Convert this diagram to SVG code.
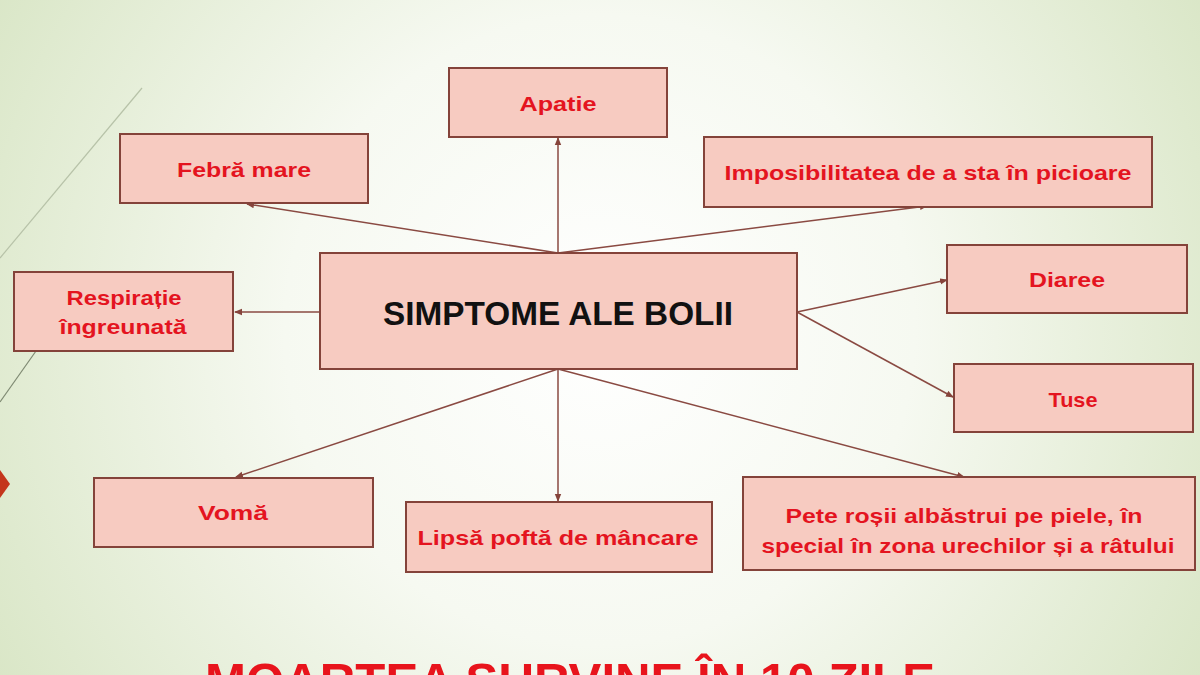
<svg xmlns="http://www.w3.org/2000/svg" width="1200" height="675" viewBox="0 0 1200 675">
<defs>
<radialGradient id="bg" cx="600" cy="330" r="700" gradientUnits="userSpaceOnUse">
<stop offset="0" stop-color="#ffffff"/>
<stop offset="0.45" stop-color="#f6f9f1"/>
<stop offset="1" stop-color="#d9e6c6"/>
</radialGradient>
<marker id="ah" markerWidth="8" markerHeight="8" refX="7" refY="4" orient="auto" markerUnits="userSpaceOnUse">
<path d="M0,0.8 L8,4 L0,7.2 Z" fill="#86443b"/>
</marker>
<style>
.box{fill:#f7cbc1;stroke:#84433a;stroke-width:2}
.t{font-family:"Liberation Sans",Arial,sans-serif;font-weight:bold;font-size:21px;fill:#e4141f;text-anchor:middle}
.c{stroke:#8a4a42;stroke-width:1.5;fill:none;marker-end:url(#ah)}
</style>
</defs>
<rect width="1200" height="675" fill="url(#bg)"/>
<g id="decor">
<line x1="142" y1="88" x2="0" y2="258" stroke="#b7c2a8" stroke-width="1.2"/>
<line x1="36" y1="351" x2="0" y2="402" stroke="#7f8a73" stroke-width="1.2"/>
<polygon points="0,470 10,484 0,498" fill="#c4361c"/>
</g>
<g id="connectors">
<line class="c" x1="558" y1="253" x2="558" y2="138"/>
<line class="c" x1="558" y1="253" x2="247" y2="204"/>
<line class="c" x1="558" y1="253" x2="927" y2="206"/>
<line class="c" x1="320" y1="312" x2="235" y2="312"/>
<line class="c" x1="797" y1="312" x2="947" y2="280"/>
<line class="c" x1="797" y1="312" x2="953" y2="397"/>
<line class="c" x1="558" y1="369" x2="236" y2="477"/>
<line class="c" x1="558" y1="369" x2="558" y2="501"/>
<line class="c" x1="558" y1="369" x2="964" y2="477"/>
</g>
<g id="center">
<rect class="box" x="320" y="253" width="477" height="116"/>
<text x="558" y="325" text-anchor="middle" font-family="Liberation Sans, Arial, sans-serif" font-weight="bold" font-size="34" fill="#111111" textLength="350" lengthAdjust="spacingAndGlyphs">SIMPTOME ALE BOLII</text>
</g>
<g id="apatie">
<rect class="box" x="449" y="68" width="218" height="69"/>
<text class="t" x="558" y="111" textLength="77" lengthAdjust="spacingAndGlyphs">Apatie</text>
</g>
<g id="febra">
<rect class="box" x="120" y="134" width="248" height="69"/>
<text class="t" x="244" y="177" textLength="134" lengthAdjust="spacingAndGlyphs">Febră mare</text>
</g>
<g id="imposibilitatea">
<rect class="box" x="704" y="137" width="448" height="70"/>
<text class="t" x="928" y="180" textLength="407" lengthAdjust="spacingAndGlyphs">Imposibilitatea de a sta în picioare</text>
</g>
<g id="respiratie">
<rect class="box" x="14" y="272" width="219" height="79"/>
<text class="t" x="124" y="305" textLength="115" lengthAdjust="spacingAndGlyphs">Respirație</text>
<text class="t" x="123" y="334" textLength="127" lengthAdjust="spacingAndGlyphs">îngreunată</text>
</g>
<g id="diaree">
<rect class="box" x="947" y="245" width="240" height="68"/>
<text class="t" x="1067" y="287" textLength="76" lengthAdjust="spacingAndGlyphs">Diaree</text>
</g>
<g id="tuse">
<rect class="box" x="954" y="364" width="239" height="68"/>
<text class="t" x="1073" y="407" textLength="49" lengthAdjust="spacingAndGlyphs">Tuse</text>
</g>
<g id="voma">
<rect class="box" x="94" y="478" width="279" height="69"/>
<text class="t" x="233" y="520" textLength="70" lengthAdjust="spacingAndGlyphs">Vomă</text>
</g>
<g id="lipsa">
<rect class="box" x="406" y="502" width="306" height="70"/>
<text class="t" x="558" y="545" textLength="281" lengthAdjust="spacingAndGlyphs">Lipsă poftă de mâncare</text>
</g>
<g id="pete">
<rect class="box" x="743" y="477" width="452" height="93"/>
<text class="t" x="964" y="523" textLength="357" lengthAdjust="spacingAndGlyphs">Pete roșii albăstrui pe piele, în</text>
<text class="t" x="968" y="553" textLength="413" lengthAdjust="spacingAndGlyphs">special în zona urechilor și a râtului</text>
</g>
<g id="footer">
<text x="570" y="697" text-anchor="middle" font-family="Liberation Sans, Arial, sans-serif" font-weight="bold" font-size="49" fill="#e8141c" textLength="730" lengthAdjust="spacingAndGlyphs">MOARTEA SURVINE ÎN 10 ZILE</text>
</g>
</svg>
